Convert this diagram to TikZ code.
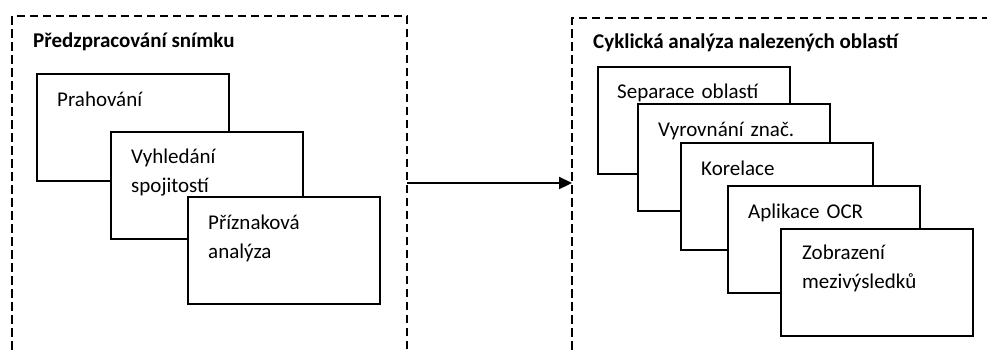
\documentclass[tikz,border=0pt]{standalone}
\usepackage{fontspec}
\setmainfont{Carlito}
\usetikzlibrary{arrows.meta}
\begin{document}
\begin{tikzpicture}[x=1pt,y=-1pt,
  frame/.style={draw, dash pattern=on 8.5pt off 4.5pt, line width=2.3pt, rectangle, inner sep=0pt, outer sep=0pt, anchor=north west},
  stepbox/.style={draw, fill=white, line width=2pt, minimum width=192pt, minimum height=107pt, anchor=north west, inner sep=0pt, outer sep=0pt},
  steptext/.style={anchor=base west, inner sep=0pt, text width=170pt, align=left, font=\fontsize{21}{29}\selectfont},
  title/.style={anchor=base west, inner sep=0pt, font=\bfseries\fontsize{21}{25}\selectfont},
  flow/.style={line width=2.3pt, -{Triangle[length=13pt,width=12pt]}}]
\useasboundingbox (0,0) rectangle (987,349);
\clip (0,0) rectangle (987,349);

% dashed group frames (they run past the lower and right page edges)
\node[frame, minimum width=395pt, minimum height=380pt] (pre) at (12,16) {};
\node[frame, minimum width=500pt, minimum height=380pt] (cyc) at (572,18) {};

\node[title] (pre-title) at (33,47) {Předzpracování snímku};
\node[title] (cyc-title) at (593,48) {Cyklická analýza nalezených oblastí};

% image preprocessing steps
\node[stepbox] (prah) at (37,74) {};
\node[steptext] (prah-t) at ([shift={(20,32)}]prah.north west) {Prahování};
\node[stepbox] (spoj) at (111,132) {};
\node[steptext] (spoj-t) at ([shift={(20,31)}]spoj.north west) {Vyhledání\\spojitostí};
\node[stepbox] (prizn) at (188,197) {};
\node[steptext] (prizn-t) at ([shift={(20,32)}]prizn.north west) {Příznaková\\analýza};

% cyclic analysis of the found regions
\node[stepbox] (sep) at (598,67) {};
\node[steptext] (sep-t) at ([shift={(19,31)}]sep.north west) {Separace oblastí};
\node[stepbox] (vyr) at (638,104) {};
\node[steptext] (vyr-t) at ([shift={(20,32)}]vyr.north west) {Vyrovnání znač.};
\node[stepbox] (kor) at (681,143) {};
\node[steptext] (kor-t) at ([shift={(20,32)}]kor.north west) {Korelace};
\node[stepbox] (ocr) at (728,186) {};
\node[steptext] (ocr-t) at ([shift={(20,32)}]ocr.north west) {Aplikace OCR};
\node[stepbox] (zobr) at (781,229) {};
\node[steptext] (zobr-t) at ([shift={(21,30)}]zobr.north west) {Zobrazení\\mezivýsledků};

% flow from preprocessing into the cyclic analysis
\coordinate (flowy) at (490,183);
\draw[flow] (pre.east |- flowy) -- (cyc.west |- flowy);
\end{tikzpicture}
\end{document}
